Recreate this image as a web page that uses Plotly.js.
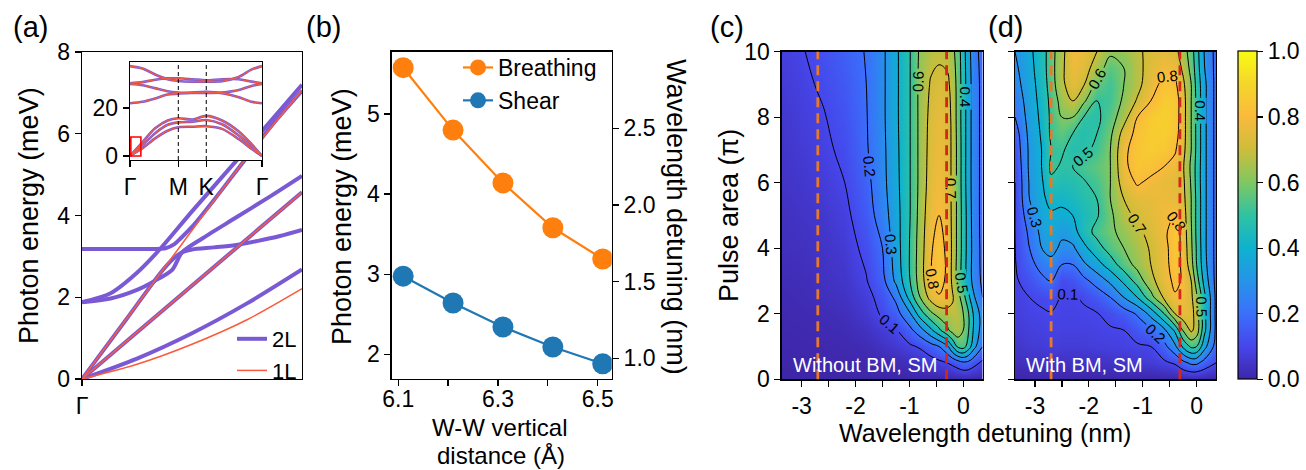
<!DOCTYPE html>
<html><head><meta charset="utf-8">
<script src="https://cdn.plot.ly/plotly-3.0.1.min.js"></script>
<style>html,body{margin:0;padding:0;background:#fff;}#chart{width:1306px;height:470px;}</style>
</head><body><div id="chart"></div>
<script>
// ================= DATA =================
// Panel (a): phonon dispersion near Gamma (q as fraction of plotted range)
const qZA = [0, 0.25, 0.5, 0.75, 1];
const eZA2L = [0, 0.5, 1.12, 1.85, 2.68];
const eZA1L = [0, 0.36, 0.85, 1.45, 2.21];
const qTA = [0, 1];
const eTA = [0, 4.57];
const qLA1L = [0, 0.44, 0.74, 1];
const eLA1L = [0, 3.2, 5.36, 7.07];
const qLAlow2L = [0, 0.2, 0.36, 0.41, 0.455, 0.5, 0.6, 0.7, 0.8, 0.9, 1];
const eLAlow2L = [0, 1.45, 2.62, 2.92, 3.1, 3.17, 3.22, 3.28, 3.38, 3.5, 3.65];
const qBreath2L = [0, 0.2, 0.3, 0.38, 0.42, 0.45, 0.5, 0.6, 0.74, 0.87, 1];
const eBreath2L = [3.18, 3.18, 3.18, 3.2, 3.3, 3.45, 3.72, 4.38, 5.36, 6.25, 7.05];
const qShear1 = [0, 0.13, 0.25, 0.33, 0.41, 0.455, 0.55, 0.7, 0.85, 1];
const eShear1 = [1.88, 1.97, 2.18, 2.4, 2.67, 3.1, 3.45, 3.95, 4.45, 4.97];
const qShear2 = [0, 0.13, 0.25, 0.355, 0.5, 0.705, 1];
const eShear2 = [1.88, 2.1, 2.6, 3.18, 4.1, 5.36, 7.2];

// Inset: full path Gamma-M-K-Gamma
const pathX = [0, 0.15, 0.3, 0.45, 0.577, 0.75, 0.911, 1.1, 1.3, 1.45, 1.577];
const bandZA = [0, 3.2, 7.3, 10.5, 12.0, 12.2, 12.4, 11.3, 7.0, 3.0, 0];
const bandTA = [0, 4.5, 9.5, 13.0, 14.0, 14.3, 15.0, 13.2, 8.5, 4.0, 0];
const bandLA = [0, 5.8, 11.5, 14.8, 15.7, 15.2, 16.7, 14.8, 10.2, 5.0, 0];
const bandO1 = [37.5, 36.5, 34.0, 32.0, 31.3, 31.0, 31.0, 31.2, 33.0, 36.0, 37.5];
const bandO2 = [30.3, 30.8, 31.8, 32.4, 32.4, 32.0, 31.6, 32.0, 32.0, 31.0, 30.3];
const bandO3 = [30.0, 29.5, 28.3, 27.0, 26.5, 26.3, 26.3, 26.5, 27.5, 29.2, 30.0];
const bandO4 = [22.0, 22.6, 24.0, 25.6, 26.0, 26.5, 26.8, 26.2, 24.5, 22.6, 22.0];
const insetTickVals = [0, 0.577, 0.911, 1.577];
const insetTickText = ['Γ', 'M', 'K', 'Γ'];
const insetSymPoints = [0.577, 0.911];

// Panel (b)
const wwDistance = [6.11, 6.21, 6.31, 6.41, 6.51];
const breathingMeV = [5.58, 4.80, 4.14, 3.58, 3.19];
const shearMeV = [2.975, 2.64, 2.34, 2.09, 1.88];

// Panel (c): without BM, SM
const detuningC = [-3.37, -3.0, -2.6, -2.2, -1.8, -1.5, -1.25, -1.0, -0.8, -0.6, -0.45, -0.3, -0.2, -0.1, 0.0, 0.1, 0.2, 0.36];
const pulseC = [0, 0.5, 1, 1.5, 2, 2.5, 3, 4, 5, 6, 7, 8, 9, 10];
const popC = [
 [0,0,0,0,0,0,0,0,0,0,0,0,0,0,0,0,0,0],
 [0.002,0.003,0.004,0.006,0.01,0.015,0.02,0.03,0.04,0.06,0.08,0.1,0.12,0.15,0.18,0.17,0.13,0.08],
 [0.005,0.006,0.008,0.012,0.02,0.04,0.06,0.085,0.11,0.16,0.2,0.28,0.4,0.52,0.54,0.45,0.33,0.2],
 [0.008,0.01,0.015,0.02,0.04,0.07,0.095,0.17,0.26,0.38,0.48,0.58,0.64,0.66,0.6,0.5,0.38,0.25],
 [0.01,0.015,0.02,0.03,0.06,0.11,0.16,0.28,0.45,0.58,0.64,0.66,0.68,0.67,0.6,0.5,0.38,0.25],
 [0.015,0.02,0.03,0.04,0.075,0.13,0.22,0.43,0.6,0.74,0.79,0.77,0.71,0.64,0.54,0.42,0.31,0.2],
 [0.02,0.025,0.035,0.05,0.095,0.17,0.32,0.49,0.65,0.79,0.84,0.78,0.68,0.57,0.46,0.35,0.26,0.18],
 [0.03,0.035,0.045,0.065,0.12,0.2,0.35,0.5,0.65,0.79,0.84,0.78,0.68,0.57,0.46,0.35,0.26,0.17],
 [0.035,0.045,0.055,0.08,0.15,0.25,0.36,0.49,0.64,0.77,0.8,0.76,0.68,0.57,0.46,0.35,0.25,0.17],
 [0.045,0.055,0.07,0.1,0.17,0.27,0.37,0.49,0.63,0.75,0.78,0.75,0.68,0.57,0.45,0.34,0.25,0.17],
 [0.05,0.065,0.085,0.115,0.19,0.275,0.375,0.49,0.63,0.74,0.77,0.75,0.68,0.57,0.45,0.34,0.25,0.17],
 [0.055,0.075,0.095,0.13,0.195,0.28,0.38,0.49,0.63,0.73,0.76,0.74,0.68,0.56,0.45,0.34,0.25,0.17],
 [0.065,0.085,0.11,0.145,0.2,0.28,0.38,0.49,0.63,0.71,0.73,0.72,0.67,0.56,0.45,0.34,0.25,0.17],
 [0.08,0.095,0.125,0.16,0.205,0.28,0.38,0.49,0.62,0.67,0.68,0.67,0.63,0.55,0.44,0.33,0.24,0.16]
];

// Panel (d): with BM, SM
const detuningD = [-3.37, -3.1, -2.85, -2.7, -2.5, -2.3, -2.1, -1.85, -1.6, -1.35, -1.1, -0.85, -0.6, -0.4, -0.25, -0.1, 0.0, 0.15, 0.36];
const pulseD = [0, 0.5, 1, 1.5, 2, 2.5, 3, 3.5, 4, 4.5, 5, 5.5, 6, 6.5, 7, 7.5, 8, 8.5, 9, 9.5, 10];
const popD = [
 [0,0,0,0,0,0,0,0,0,0,0,0,0,0,0,0,0,0,0],
 [0.03,0.04,0.04,0.045,0.04,0.04,0.04,0.04,0.045,0.05,0.06,0.07,0.085,0.11,0.17,0.22,0.22,0.16,0.1],
 [0.05,0.065,0.07,0.075,0.07,0.07,0.07,0.075,0.08,0.085,0.09,0.1,0.17,0.28,0.42,0.52,0.5,0.33,0.16],
 [0.065,0.08,0.085,0.09,0.085,0.085,0.085,0.09,0.095,0.1,0.14,0.19,0.28,0.42,0.61,0.72,0.66,0.42,0.18],
 [0.075,0.09,0.095,0.097,0.09,0.09,0.093,0.097,0.115,0.15,0.21,0.33,0.5,0.7,0.76,0.74,0.65,0.42,0.18],
 [0.082,0.1,0.11,0.12,0.095,0.095,0.105,0.14,0.2,0.3,0.4,0.56,0.72,0.79,0.78,0.72,0.62,0.42,0.18],
 [0.09,0.13,0.18,0.2,0.11,0.13,0.17,0.24,0.32,0.42,0.54,0.67,0.76,0.82,0.79,0.7,0.55,0.36,0.17],
 [0.095,0.17,0.24,0.27,0.2,0.2,0.28,0.36,0.45,0.55,0.63,0.7,0.77,0.84,0.78,0.64,0.5,0.33,0.17],
 [0.098,0.2,0.31,0.33,0.28,0.28,0.37,0.46,0.54,0.6,0.65,0.71,0.77,0.85,0.77,0.62,0.49,0.32,0.17],
 [0.1,0.22,0.34,0.37,0.32,0.36,0.45,0.53,0.58,0.63,0.68,0.73,0.78,0.85,0.76,0.61,0.48,0.32,0.17],
 [0.1,0.26,0.37,0.39,0.38,0.4,0.44,0.49,0.58,0.67,0.72,0.75,0.78,0.8,0.75,0.6,0.48,0.32,0.17],
 [0.1,0.3,0.39,0.42,0.42,0.44,0.47,0.5,0.6,0.7,0.75,0.76,0.77,0.76,0.73,0.6,0.48,0.32,0.17],
 [0.1,0.31,0.4,0.48,0.46,0.47,0.49,0.53,0.6,0.75,0.81,0.78,0.76,0.75,0.72,0.59,0.47,0.32,0.17],
 [0.11,0.32,0.41,0.52,0.49,0.5,0.53,0.56,0.6,0.78,0.84,0.83,0.8,0.77,0.71,0.58,0.47,0.32,0.17],
 [0.13,0.32,0.41,0.5,0.51,0.47,0.48,0.52,0.6,0.78,0.84,0.86,0.85,0.81,0.73,0.6,0.48,0.32,0.17],
 [0.15,0.33,0.42,0.52,0.56,0.5,0.47,0.5,0.58,0.74,0.83,0.86,0.87,0.84,0.74,0.6,0.48,0.32,0.17],
 [0.2,0.34,0.43,0.52,0.6,0.6,0.5,0.48,0.55,0.66,0.8,0.86,0.88,0.85,0.74,0.6,0.48,0.32,0.17],
 [0.23,0.35,0.44,0.53,0.64,0.7,0.62,0.5,0.52,0.62,0.71,0.8,0.86,0.85,0.74,0.6,0.48,0.32,0.17],
 [0.26,0.36,0.45,0.55,0.68,0.75,0.71,0.57,0.52,0.6,0.67,0.76,0.83,0.82,0.72,0.6,0.47,0.32,0.17],
 [0.28,0.37,0.46,0.56,0.68,0.77,0.75,0.65,0.55,0.6,0.67,0.74,0.78,0.77,0.68,0.57,0.45,0.3,0.17],
 [0.3,0.38,0.46,0.56,0.67,0.78,0.77,0.7,0.62,0.63,0.68,0.73,0.75,0.73,0.65,0.55,0.44,0.29,0.17]
];
const markLines = [-2.7, -0.31];
const colorbarTicks = [0, 0.2, 0.4, 0.6, 0.8, 1.0];

// ================= STYLE =================
const W = 1306, H = 470;
const px2x = p => p / W;
const px2y = p => 1 - p / H;
const FONT = 'Liberation Sans, Arial, Helvetica, sans-serif';
const PURPLE = '#7a5ad4';
const RED = '#fb5a3a';
const ORANGE = '#ff7f0e';
const BLUE = '#1f77b4';
const parula = [[0,'rgb(62,38,168)'],[0.1,'rgb(70,70,235)'],[0.2,'rgb(58,112,252)'],[0.3,'rgb(38,148,232)'],
  [0.4,'rgb(14,178,208)'],[0.5,'rgb(48,194,162)'],[0.6,'rgb(128,200,98)'],[0.7,'rgb(205,189,58)'],
  [0.8,'rgb(250,186,60)'],[0.9,'rgb(245,214,42)'],[1,'rgb(249,251,20)']];

function ax(extra) {
  return Object.assign({showline:true, linecolor:'black', linewidth:1.3, mirror:true, ticks:'outside',
    ticklen:6, tickwidth:1.3, tickcolor:'black', showgrid:false, zeroline:false, fixedrange:true,
    tickfont:{size:23, color:'black', family:FONT}}, extra);
}

const traces = [];
function band(x, y, color, width, xa, ya, name, show) {
  traces.push({type:'scatter', mode:'lines', x:x, y:y, xaxis:xa, yaxis:ya,
    line:{color:color, width:width, shape:'spline', smoothing:0.8},
    name:name || '', showlegend:!!show, legend:'legend', hoverinfo:'skip'});
}
// (a) main: 2L purple (thick) then 1L red (thin)
band(qZA, eZA2L, PURPLE, 4, 'x', 'y', '2L', true);
band(qTA, eTA, PURPLE, 4, 'x', 'y');
band(qLAlow2L, eLAlow2L, PURPLE, 4, 'x', 'y');
band(qBreath2L, eBreath2L, PURPLE, 4, 'x', 'y');
band(qShear1, eShear1, PURPLE, 4, 'x', 'y');
band(qShear2, eShear2, PURPLE, 4, 'x', 'y');
band(qZA, eZA1L, RED, 1.5, 'x', 'y', '1L', true);
band(qTA, eTA, RED, 1.5, 'x', 'y');
band(qLA1L, eLA1L, RED, 1.5, 'x', 'y');
// inset
[bandZA, bandTA, bandLA, bandO1, bandO2, bandO3, bandO4].forEach(b => band(pathX, b, PURPLE, 2.6, 'x2', 'y2'));
[bandZA, bandTA, bandLA, bandO1, bandO2, bandO3, bandO4].forEach(b => band(pathX, b, RED, 1.1, 'x2', 'y2'));

// (b)
traces.push({type:'scatter', mode:'lines+markers', x:wwDistance, y:breathingMeV, xaxis:'x3', yaxis:'y3',
  name:'Breathing', legend:'legend2', line:{color:ORANGE, width:2.2}, marker:{color:ORANGE, size:21}, hoverinfo:'skip'});
traces.push({type:'scatter', mode:'lines+markers', x:wwDistance, y:shearMeV, xaxis:'x3', yaxis:'y3',
  name:'Shear', legend:'legend2', line:{color:BLUE, width:2.2}, marker:{color:BLUE, size:21}, hoverinfo:'skip'});
traces.push({type:'scatter', mode:'lines', x:wwDistance, y:wwDistance.map(() => null), xaxis:'x3', yaxis:'y4',
  showlegend:false, hoverinfo:'skip'});

// (c), (d)
function heat(x, y, z, xa, ya, withBar) {
  traces.push({type:'heatmap', x:x, y:y, z:z, xaxis:xa, yaxis:ya, colorscale:parula, zmin:0, zmax:1,
    zsmooth:'best', showscale:withBar, showlegend:false, hoverinfo:'skip',
    colorbar: withBar ? {x:px2x(1237.7), xanchor:'left', xref:'paper', y:px2y(379.3), yanchor:'bottom', yref:'paper',
      len:327.6, lenmode:'pixels', thickness:19, thicknessmode:'pixels', outlinewidth:1.2, outlinecolor:'black',
      ticks:'outside', ticklen:6, tickwidth:1.2, tickcolor:'black', tickvals:colorbarTicks,
      ticktext:colorbarTicks.map(v => v.toFixed(1)), tickfont:{size:23, color:'black', family:FONT}, xpad:0, ypad:0} : undefined});
  traces.push({type:'contour', x:x, y:y, z:z, xaxis:xa, yaxis:ya, showscale:false, showlegend:false, hoverinfo:'skip',
    contours:{start:0.1, end:0.8, size:0.1, coloring:'none', showlabels:true,
      labelfont:{size:15, color:'black', family:FONT}, labelformat:'.1f'},
    line:{color:'black', width:1, smoothing:1.1}});
}
heat(detuningC, pulseC, popC, 'x5', 'y5', false);
heat(detuningD, pulseD, popD, 'x6', 'y6', true);

// shapes
const shapes = [];
shapes.push({type:'rect', xref:'x2', yref:'y2', x0:0, x1:1.577, y0:-1.7, y1:39.2, fillcolor:'white', line:{width:0}, layer:'below'});
insetSymPoints.forEach(v => shapes.push({type:'line', xref:'x2', yref:'y2 domain', x0:v, x1:v, y0:0, y1:1,
  line:{color:'black', width:1, dash:'4px,3px'}}));
shapes.push({type:'rect', xref:'x2', yref:'y2', x0:0.01, x1:0.13, y0:0, y1:7.9, line:{color:'red', width:1.6}});
[['x5','y5'],['x6','y6']].forEach(([xa, ya]) => {
  markLines.forEach((v, i) => shapes.push({type:'line', xref:xa, yref:ya + ' domain', x0:v, x1:v, y0:0, y1:1,
    line:{color: i === 0 ? '#e8782a' : '#d4261c', width:2.8, dash:'10px,6px'}}));
});

function ann(text, xp, yp, size, extra) {
  return Object.assign({text:text, x:px2x(xp), y:px2y(yp), xref:'paper', yref:'paper', showarrow:false,
    xanchor:'center', yanchor:'middle', font:{size:size, color:'black', family:FONT}}, extra || {});
}
const annotations = [
  ann('(a)', 30, 27, 29), ann('(b)', 323, 27, 29), ann('(c)', 727, 27, 29), ann('(d)', 1005, 27, 29),
  ann('Photon energy (meV)', 29, 216, 27, {textangle:-90}),
  ann('Photon energy (meV)', 342, 216, 27, {textangle:-90}),
  ann('Wavelength detuning (nm)', 676, 217, 27, {textangle:90}),
  ann('W-W vertical', 500, 427, 24),
  ann('distance (Å)', 501, 455, 24),
  ann('Wavelength detuning (nm)', 985, 433, 25),
  ann('Pulse area (π)', 729, 216, 27, {textangle:-90}),
  ann('Without BM, SM', 865, 365, 20, {font:{size:20, color:'white', family:FONT}}),
  ann('With BM, SM', 1084, 365, 20, {font:{size:20, color:'white', family:FONT}})
];

const cTicks = [-3, -2.5, -2, -1.5, -1, -0.5, 0];
const cTickText = ['-3', '', '-2', '', '-1', '', '0'];

const layout = {
  width:W, height:H, margin:{l:0, r:0, t:0, b:0}, paper_bgcolor:'white', plot_bgcolor:'white',
  font:{family:FONT, color:'black'}, showlegend:true,
  xaxis: ax({domain:[px2x(82), px2x(302)], range:[0, 1], tickvals:[0], ticktext:['Γ'], anchor:'y'}),
  yaxis: ax({domain:[px2y(379), px2y(52)], range:[0, 8], tickvals:[0, 2, 4, 6, 8], anchor:'x'}),
  xaxis2: ax({domain:[px2x(130), px2x(262)], range:[0, 1.577], tickvals:insetTickVals, ticktext:insetTickText, anchor:'y2'}),
  yaxis2: ax({domain:[px2y(160), px2y(62)], range:[-1.7, 39.2], tickvals:[0, 20], anchor:'x2'}),
  xaxis3: ax({domain:[px2x(391.7), px2x(611.7)], range:[6.087, 6.528], tickvals:[6.1, 6.2, 6.3, 6.4, 6.5],
    ticktext:['6.1', '', '6.3', '', '6.5'], anchor:'y3', ticklabelstandoff:-7}),
  yaxis3: ax({domain:[px2y(379), px2y(51.7)], range:[1.69, 5.78], tickvals:[2, 3, 4, 5], anchor:'x3', mirror:false}),
  yaxis4: ax({overlaying:'y3', side:'right', anchor:'x3', range:[0.865, 3.0], tickvals:[1, 1.5, 2, 2.5],
    ticktext:['1.0', '1.5', '2.0', '2.5'], mirror:false}),
  xaxis5: ax({domain:[px2x(781.7), px2x(982.7)], range:[-3.37, 0.36], tickvals:cTicks, ticktext:cTickText, anchor:'y5'}),
  yaxis5: ax({domain:[px2y(379.3), px2y(51.7)], range:[0, 10], tickvals:[0, 2, 4, 6, 8, 10], anchor:'x5'}),
  xaxis6: ax({domain:[px2x(1015), px2x(1216)], range:[-3.37, 0.36], tickvals:cTicks, ticktext:cTickText, anchor:'y6'}),
  yaxis6: ax({domain:[px2y(379.3), px2y(51.7)], range:[0, 10], tickvals:[0, 2, 4, 6, 8, 10], showticklabels:false, anchor:'x6'}),
  legend: {x:px2x(302), xanchor:'right', y:px2y(318), yanchor:'top', bgcolor:'rgba(0,0,0,0)',
    font:{size:22, color:'black', family:FONT}, itemwidth:30, tracegroupgap:0},
  legend2: {x:px2x(458), xanchor:'left', y:px2y(46), yanchor:'top', bgcolor:'rgba(0,0,0,0)',
    font:{size:23, color:'black', family:FONT}, itemwidth:30},
  shapes: shapes, annotations: annotations
};

Plotly.newPlot('chart', traces, layout, {staticPlot:true, displayModeBar:false});
</script></body></html>
